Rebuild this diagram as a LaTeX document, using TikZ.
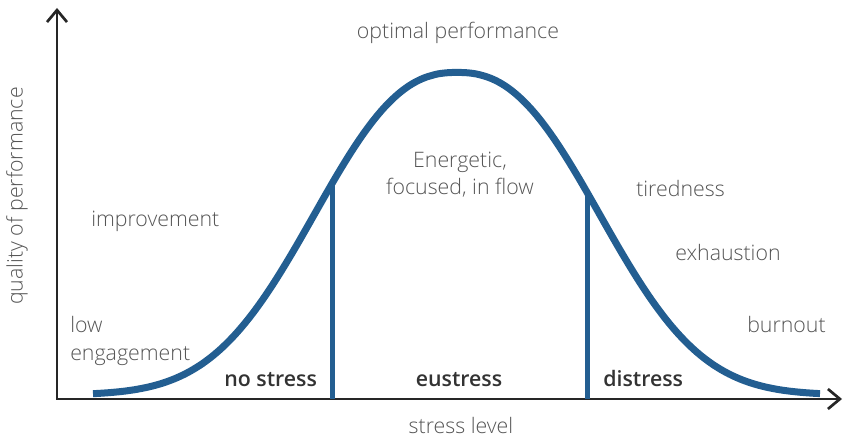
\documentclass[tikz,border=0pt]{standalone}
\usepackage{fontspec}
\IfFontExistsTF{Open Sans Semibold}
  {\newcommand{\zoneface}{Open Sans Semibold}}
  {\newcommand{\zoneface}{Open Sans Bold}}
\IfFontExistsTF{Open Sans Light}
  {\setmainfont{Open Sans Light}[BoldFont=\zoneface]}
  {\setmainfont{Open Sans}}
\usepackage{tikz}
\usetikzlibrary{arrows.meta, positioning}
\definecolor{curveblue}{HTML}{235E91}
\definecolor{labelgray}{HTML}{555555}
\definecolor{zonegray}{HTML}{333333}
\tikzstyle{axis} = [line width=2pt, draw=black!85, {Straight Barb[length=9pt,width=15pt,line width=2pt]}-{Straight Barb[length=9pt,width=15pt,line width=2pt]}]
\tikzstyle{bell} = [line width=5.25pt, draw=curveblue]
\tikzstyle{divider} = [line width=3.75pt, draw=curveblue]
\tikzstyle{label} = [text=labelgray, font=\fontsize{16}{20.5}\selectfont, inner sep=0pt]
\tikzstyle{zone} = [text=zonegray, font=\fontsize{16}{20.5}\selectfont\bfseries, inner sep=0pt]

\begin{document}
\begin{tikzpicture}[x=0.75pt, y=-0.75pt,
  declare function={bell(\x)=395-322.5*exp(-((abs(\x-457)+0.01)/179)^2.4);}]
\useasboundingbox (0,0) rectangle (843,438);

% axes
\coordinate (ytip) at (57,8);
\coordinate (origin) at (57,399);
\coordinate (xtip) at (842,399);
\draw [axis] (ytip) -- (origin) -- (xtip);

% performance curve and zone borders
\draw [bell] plot [domain=93:820, samples=160, smooth] (\x, {bell(\x)});
\coordinate (left top) at (332, {bell(332)});
\coordinate (left foot) at (332,399);
\coordinate (right top) at (587, {bell(587)});
\coordinate (right foot) at (587,399);
\draw [divider] (left foot) -- (left top);
\draw [divider] (right foot) -- (right top);

% axis titles
\node (ylabel) [label, rotate=90] at (17,196) {quality of performance};
\node (xlabel) [label, anchor=base] at (461,433) {stress level};

% curve labels
\node (optimal) [label, anchor=base] at (458,39) {optimal performance};
\node (improve) [label, anchor=base west] at (91,227) {improvement};
\node (low) [label, anchor=base west] at (70,333) {low};
\node (engage) [label, anchor=base west] at (70,361) {engagement};
\node (flow) [label, anchor=base, align=center] at (460,195) {Energetic,\\focused, in flow};
\node (tired) [label, anchor=base west] at (636,197) {tiredness};
\node (exhaust) [label, anchor=base west] at (675,261) {exhaustion};
\node (burnout) [label, anchor=base west] at (747,333) {burnout};

% zones
\node (nostress) [zone, anchor=base west] at (224,387) {no stress};
\node (eustress) [zone, anchor=base] at (459,387) {eustress};
\node (distress) [zone, anchor=base west] at (603,387) {distress};
\end{tikzpicture}
\end{document}
